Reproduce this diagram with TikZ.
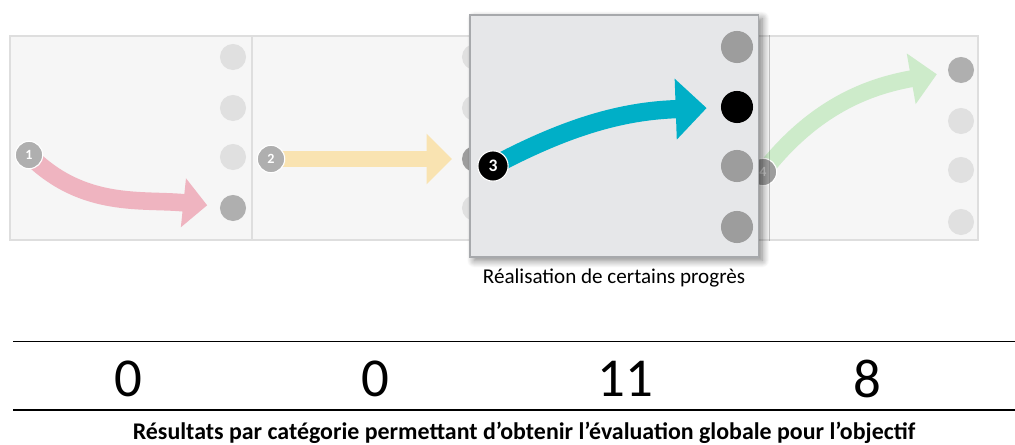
\documentclass[tikz,border=0pt]{standalone}
\usepackage{fontspec}
\setmainfont{Carlito}
\usetikzlibrary{arrows.meta,shadows.blur}
\definecolor{panelgray}{HTML}{F6F6F6}
\definecolor{panelline}{HTML}{DEDEDE}
\definecolor{dotlight}{HTML}{E0E0E0}
\definecolor{dotdark}{HTML}{AFAFAF}
\definecolor{raisedfill}{HTML}{E6E7E9}
\definecolor{raisedline}{HTML}{A7A9AC}
\definecolor{dotmid}{HTML}{9D9D9D}
\definecolor{pinkflow}{HTML}{EFB4C0}
\definecolor{yellowflow}{HTML}{F9E3B1}
\definecolor{tealflow}{HTML}{00AFC7}
\definecolor{greenflow}{HTML}{CDEBCA}

\begin{document}
\begin{tikzpicture}[
    x=0.025cm, y=-0.025cm,
    panel/.style={rectangle, fill=panelgray, draw=panelline, line width=0.8pt, minimum width=172.1pt, minimum height=145.1pt, inner sep=0pt},
    raised/.style={rectangle, fill=raisedfill, draw=raisedline, line width=0.8pt, minimum width=204.9pt, minimum height=172.1pt, inner sep=0pt,
      blur shadow={shadow xshift=3pt, shadow yshift=-2.5pt, shadow blur radius=5pt, shadow blur steps=10, shadow opacity=50}},
    dot/.style={circle, fill=dotlight, minimum size=18.5pt, inner sep=0pt},
    bigdot/.style={circle, fill=dotmid, minimum size=22.8pt, inner sep=0pt},
    start/.style={circle, fill=#1, draw=white, line width=0.8pt, minimum size=19.5pt, inner sep=0pt, text=white, font=\bfseries\fontsize{10}{10}\selectfont},
    score/.style={font=\fontsize{39}{40}\selectfont, inner sep=0pt},
    rule/.style={line width=1.4pt, black}
  ]
    \useasboundingbox (0,0) rectangle (1015,445);

    % row of categories
    \node[panel] (p1) at (131,138) {};
    \node[panel] (p2) at (373,138) {};
    \node[panel] (p3) at (615,138) {};
    \node[panel] (p4) at (857,138) {};

    \node[dot] (d11) at (233,57) {};
    \node[dot] (d12) at (233,108) {};
    \node[dot] (d13) at (233,157) {};
    \node[dot, fill=dotdark] (d14) at (233,208) {};

    \node[dot] (d21) at (475,57) {};
    \node[dot] (d22) at (475,108) {};
    \node[dot, fill=dotmid] (d23) at (475,159) {};
    \node[dot] (d24) at (475,208) {};

    \node[dot, fill=dotdark] (d41) at (961,70) {};
    \node[dot] (d42) at (961,121) {};
    \node[dot] (d43) at (961,170) {};
    \node[dot] (d44) at (961,222) {};

    \coordinate (c1) at (29,155);
    \coordinate (c2) at (271,159);
    \coordinate (c4) at (763,172);

    \draw[pinkflow, line width=12.5pt, shorten >=9pt, -{Triangle[length=17pt,width=34pt]}] (c1) to[out=-45, in=174] (d14);
    \draw[yellowflow, line width=11.4pt, shorten >=7pt, -{Triangle[length=18pt,width=35pt]}] (c2) -- (d23);
    \draw[greenflow, line width=12pt, shorten >=8pt, -{Triangle[length=18.5pt,width=35.5pt]}] (c4) to[out=52, in=190] (d41);

    \node[start=dotdark] (s1) at (c1) {1};
    \node[start=dotdark] (s2) at (c2) {2};
    \node[start=dotmid, text=black!20] (s4) at (c4) {4};

    % highlighted category
    \node[raised] (r3) at (614,136) {};
    \node[bigdot] (d31) at (737,47) {};
    \node[bigdot, fill=black] (d32) at (737,107) {};
    \node[bigdot] (d33) at (737,166) {};
    \node[bigdot] (d34) at (737,227) {};
    \coordinate (c3) at (493,166);
    \draw[tealflow, line width=13pt, shorten >=10pt, -{Triangle[length=22pt,width=42pt]}] (c3) to[out=28, in=182] (d32);
    \node[start=black, minimum size=21.5pt, font=\bfseries\fontsize{12.5}{12.5}\selectfont] (s3) at (c3) {3};

    \node[font=\fontsize{15}{17}\selectfont] (cap) at (614,278) {Réalisation de certains progrès};

    % results
    \draw[rule] (13,341.5) -- (1015,341.5);
    \draw[rule] (13,410) -- (1015,410);
    \node[score] (n1) at (128,379) {0};
    \node[score] (n2) at (375,379) {0};
    \node[score] (n3) at (625,379) {11};
    \node[score] (n4) at (867,379) {8};
    \node[font=\bfseries\fontsize{17}{19}\selectfont] (legend) at (524,433) {Résultats par catégorie permettant d’obtenir l’évaluation globale pour l’objectif};
\end{tikzpicture}
\end{document}
